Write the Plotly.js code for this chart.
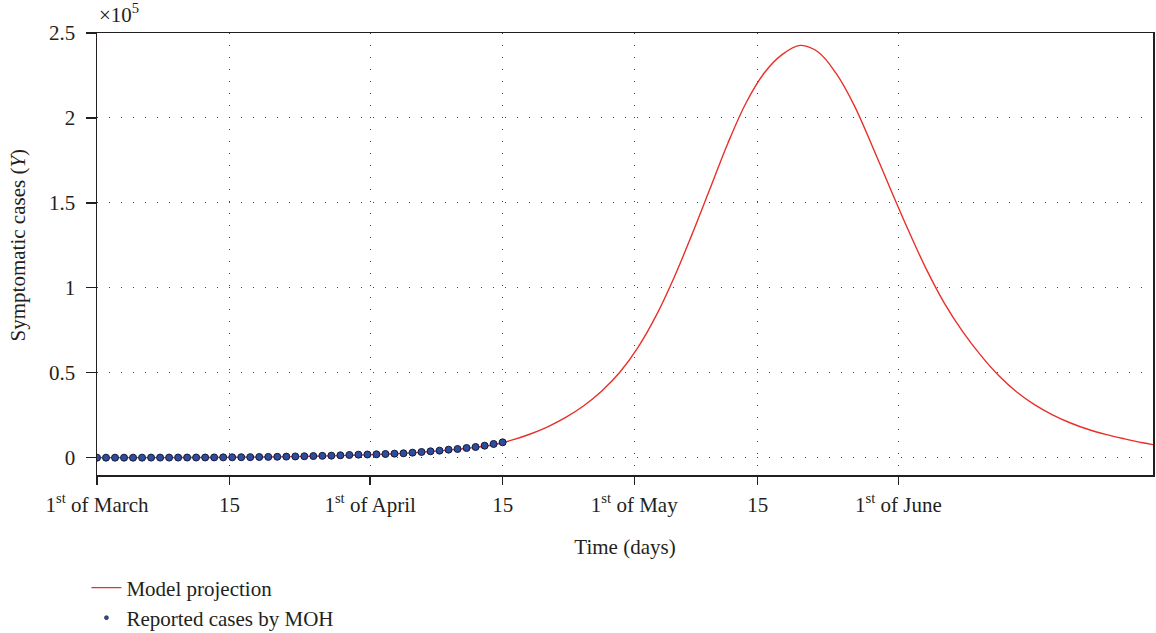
<!DOCTYPE html>
<html>
<head>
<meta charset="utf-8">
<script src="https://cdn.plot.ly/plotly-3.0.1.min.js"></script>
<style>html,body{margin:0;padding:0;background:#fff;}#chart{width:1156px;height:633px;}</style>
</head>
<body>
<div id="chart"></div>
<script>
// Days counted from 1st of March (day 0)
const reportedDays = [0,1,2,3,4,5,6,7,8,9,10,11,12,13,14,15,16,17,18,19,20,21,22,23,24,25,26,27,28,29,30,31,32,33,34,35,36,37,38,39,40,41,42,43,44,45];
const reportedCases = [0,0,0,0,10,20,30,40,50,60,80,100,120,150,180,220,260,320,390,460,540,620,720,830,950,1080,1200,1390,1590,1780,1850,1980,2180,2370,2570,2960,3350,3750,4140,4720,5120,5700,6290,7070,8060,9040];

const modelDays = [0,2,4,6,8,10,12,14,16,18,20,22,24,26,28,30,32,34,36,38,40,42,44,46,48,50,52,54,56,58,60,62,64,66,68,70,72,74,76,78,80,82,84,86,88,90,92,94,96,98,100,102,104,106,108,110,112,114,116,117.15];
const modelCases = [0,10,20,30,50,80,120,170,250,350,450,600,800,1050,1350,1650,2050,2550,3200,4000,4950,6050,7600,10300,13800,18200,23700,30600,39300,50300,64800,83300,105800,131300,158300,185300,208800,226300,237300,242700,238800,226200,207400,183500,158500,134000,111000,91000,74500,60500,48500,38800,31200,25200,20400,16600,13600,11100,8800,7700];

const xTickVals = [0,14.7,30.3,45,59.6,73.3,88.9];
const xTickText = ['1<sup>st</sup> of March','15','1<sup>st</sup> of April','15','1<sup>st</sup> of May','15','1<sup>st</sup> of June'];
const yTickVals = [0,50000,100000,150000,200000,250000];
const yTickText = ['0','0.5','1','1.5','2','2.5'];

const FONT = 'Liberation Serif, Times New Roman, serif';
const INK = '#231f20';
const FS = 21;

const traces = [
  {
    x: modelDays, y: modelCases, type: 'scatter', mode: 'lines',
    name: 'Model projection',
    line: {color: '#e8302a', width: 1.4, shape: 'spline', smoothing: 1},
    legend: 'legend'
  },
  {
    x: reportedDays, y: reportedCases, type: 'scatter', mode: 'markers',
    name: 'Reported cases by MOH', showlegend: false,
    marker: {color: '#2d4c9c', size: 7, line: {color: '#141a3c', width: 1}}
  },
  {
    x: [null], y: [null], type: 'scatter', mode: 'markers',
    name: 'Reported cases by MOH',
    marker: {color: '#2d4c9c', size: 4, line: {color: '#141a3c', width: 0.6}},
    legend: 'legend2'
  }
];

const layout = {
  width: 1156, height: 633,
  margin: {l: 97, r: 3, t: 33, b: 158},
  paper_bgcolor: '#fff', plot_bgcolor: '#fff',
  font: {family: FONT, size: FS, color: INK},
  showlegend: true,
  xaxis: {
    range: [0, 117.15],
    tickmode: 'array', tickvals: xTickVals, ticktext: xTickText,
    ticks: 'outside', ticklen: 8, tickwidth: 1.3, tickcolor: INK,
    showline: true, linecolor: INK, linewidth: 1.5, mirror: true,
    showgrid: true, gridcolor: '#444', gridwidth: 1, griddash: '1.2px,10.8px',
    zeroline: false,
    ticklabelstandoff: 2,
    tickfont: {family: FONT, size: FS, color: INK},
    title: {text: 'Time (days)', font: {family: FONT, size: FS, color: INK}, standoff: 23}
  },
  yaxis: {
    range: [-10200, 250000],
    tickmode: 'array', tickvals: yTickVals, ticktext: yTickText,
    ticks: 'outside', ticklen: 10, tickwidth: 1.3, tickcolor: INK,
    showline: true, linecolor: INK, linewidth: 1.5, mirror: true,
    showgrid: true, gridcolor: '#444', gridwidth: 1, griddash: '1.2px,10.8px',
    zeroline: false,
    ticklabelstandoff: 6,
    tickfont: {family: FONT, size: FS, color: INK}
  },
  legend: {
    x: -0.01, xanchor: 'left', y: (633 - 588) / 633, yref: 'container', yanchor: 'middle',
    font: {family: FONT, size: FS, color: INK}, bgcolor: 'rgba(0,0,0,0)'
  },
  legend2: {
    x: -0.01, xanchor: 'left', y: (633 - 618) / 633, yref: 'container', yanchor: 'middle',
    font: {family: FONT, size: FS, color: INK}, bgcolor: 'rgba(0,0,0,0)'
  },
  annotations: [
    {text: '×10<sup>5</sup>', xref: 'paper', yref: 'paper', x: 0, y: 1, xanchor: 'left', yanchor: 'bottom',
     yshift: 4, showarrow: false, font: {family: FONT, size: FS, color: INK}},
    {text: 'Symptomatic cases (<i>Y</i>)', xref: 'paper', yref: 'paper', x: -0.075, y: 0.519,
     xanchor: 'center', yanchor: 'middle', textangle: -90, showarrow: false,
     font: {family: FONT, size: FS, color: INK}}
  ]
};

Plotly.newPlot('chart', traces, layout, {displayModeBar: false, staticPlot: true});
</script>
</body>
</html>
